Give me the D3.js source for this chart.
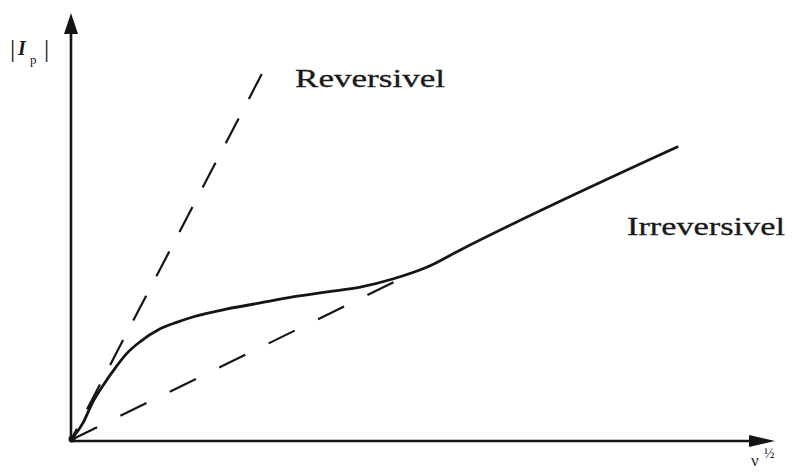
<!DOCTYPE html>
<html>
<head>
<meta charset="utf-8">
<script src="https://cdn.jsdelivr.net/npm/d3@7"></script>
<style>
  html, body { margin: 0; padding: 0; background: #fff; }
  svg { display: block; }
  text { font-family: "Liberation Serif", "Times New Roman", serif; fill: #1a1a1a; }
</style>
</head>
<body>
<svg id="chart" width="792" height="472"></svg>
<script>
// Peak current |Ip| versus square root of scan rate (arbitrary units)
const irreversibleX = [0, 1.7, 3.1, 4.6, 6.3, 8.0, 9.8, 12.6, 15.1, 17.3, 22.2, 26.9, 31.5, 36.4, 41.1, 45.7, 50.6, 55.3, 86.1];
const irreversibleY = [0, 4.0, 8.9, 12.9, 16.9, 20.4, 23.0, 26.0, 27.6, 28.8, 30.7, 32.1, 33.5, 34.7, 35.8, 37.7, 40.5, 44.5, 68.6];

// Reversible limit (steep) and the low-rate tangent, both through the origin
const reversibleX = [27.1, 0];
const reversibleY = [85.7, 0];
const tangentX = [0, 45.9];
const tangentY = [0, 37.0];

const labels = ["Reversivel", "Irreversivel"];

const svg = d3.select("#chart");
const ink = "#151515";

const x = d3.scaleLinear().domain([0, 100]).range([71, 775]);
const y = d3.scaleLinear().domain([0, 100]).range([440, 13]);

const line = d3.line().x(d => x(d[0])).y(d => y(d[1]));

// Axes with arrow heads
const x0 = x(0), y0 = y(0), xEnd = x(100), yEnd = y(100);
svg.append("line")
  .attr("x1", x0).attr("y1", y0 + 1).attr("x2", x0).attr("y2", yEnd + 10)
  .attr("stroke", ink).attr("stroke-width", 2.6);
svg.append("line")
  .attr("x1", x0 - 1).attr("y1", y0 + 1).attr("x2", xEnd - 10).attr("y2", y0 + 1)
  .attr("stroke", ink).attr("stroke-width", 2.6);

svg.append("path")
  .attr("d", `M${x0},${yEnd} L${x0 - 7},${yEnd + 21} L${x0 + 7},${yEnd + 21} Z`)
  .attr("fill", ink);
svg.append("path")
  .attr("d", `M${xEnd},${y0 + 1} L${xEnd - 26},${y0 - 5} L${xEnd - 26},${y0 + 7} Z`)
  .attr("fill", ink);

// Dashed reference lines
svg.append("path")
  .datum(d3.zip(reversibleX, reversibleY))
  .attr("d", line)
  .attr("fill", "none").attr("stroke", ink).attr("stroke-width", 2.2)
  .attr("stroke-dasharray", "28,22");

svg.append("path")
  .datum(d3.zip(tangentX, tangentY))
  .attr("d", line)
  .attr("fill", "none").attr("stroke", ink).attr("stroke-width", 2.2)
  .attr("stroke-dasharray", "29,26");

// Irreversible response curve
svg.append("path")
  .datum(d3.zip(irreversibleX, irreversibleY))
  .attr("d", line.curve(d3.curveMonotoneX))
  .attr("fill", "none").attr("stroke", ink).attr("stroke-width", 2.8)
  .attr("stroke-linecap", "round");

// Origin dot where the lines meet
svg.append("circle").attr("cx", x0 + 1).attr("cy", y0 - 1).attr("r", 3.5).attr("fill", ink);

// Curve labels
svg.append("text").attr("x", 295).attr("y", 87)
  .attr("font-size", 25).attr("textLength", 150).attr("lengthAdjust", "spacingAndGlyphs")
  .attr("stroke", "#1a1a1a").attr("stroke-width", 0.3)
  .text(labels[0]);
svg.append("text").attr("x", 627).attr("y", 235)
  .attr("font-size", 25).attr("textLength", 158).attr("lengthAdjust", "spacingAndGlyphs")
  .attr("stroke", "#1a1a1a").attr("stroke-width", 0.3)
  .text(labels[1]);

// Y axis label |Ip|
const yl = svg.append("g");
yl.append("text").attr("x", 10).attr("y", 57).attr("font-size", 26).text("|");
yl.append("text").attr("x", 18).attr("y", 55).attr("font-size", 20)
  .attr("font-style", "italic").attr("font-weight", "bold").text("I");
yl.append("text").attr("x", 30).attr("y", 64).attr("font-size", 13).text("p");
yl.append("text").attr("x", 44).attr("y", 57).attr("font-size", 26).text("|");

// X axis label v^1/2
svg.append("text").attr("x", 751).attr("y", 466).attr("font-size", 17).text("ν");
svg.append("text").attr("x", 764).attr("y", 458).attr("font-size", 14).text("½");
</script>
</body>
</html>
